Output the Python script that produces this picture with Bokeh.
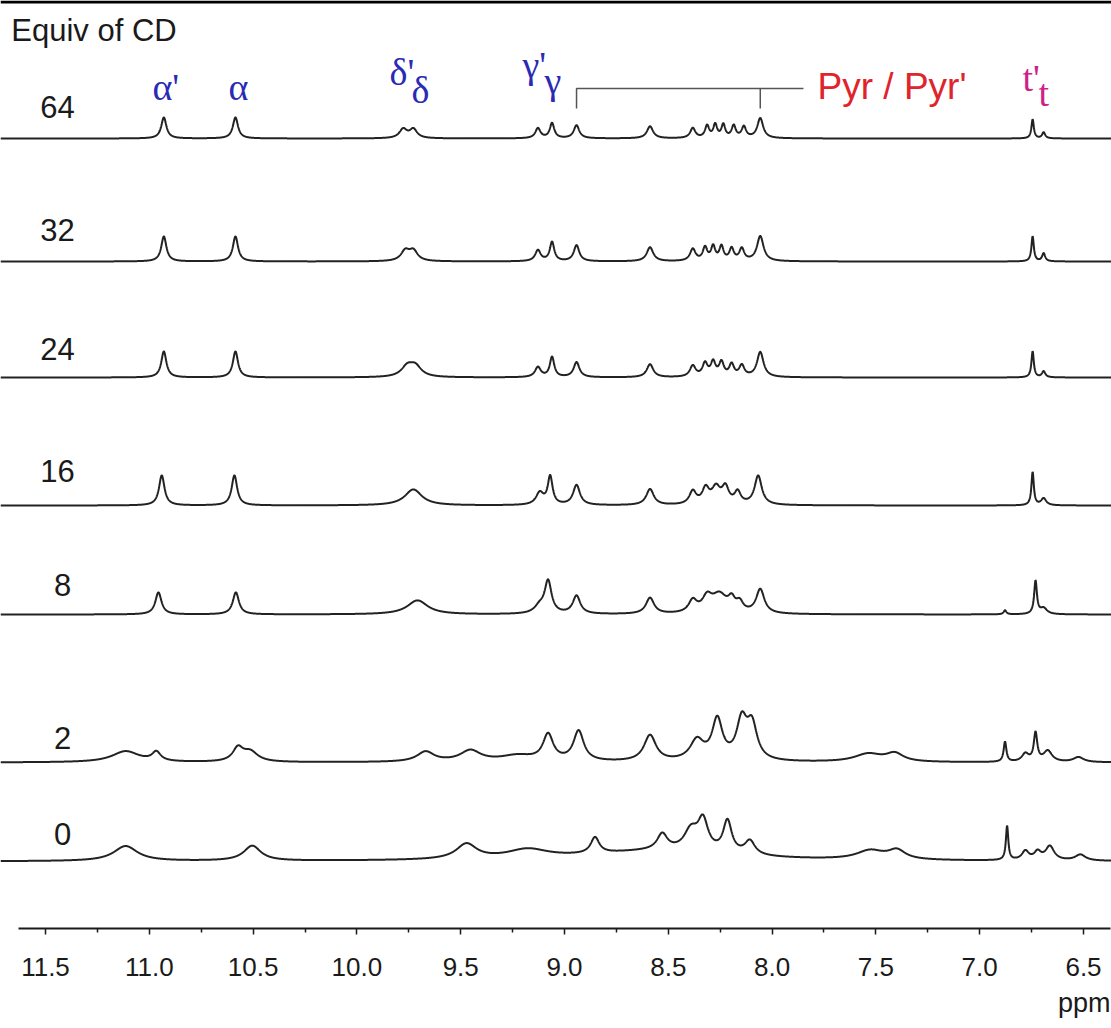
import numpy as np
from bokeh.plotting import figure
from bokeh.models import (Range1d, FixedTicker, NumeralTickFormatter, Span,
                          ColumnDataSource, Title)
from bokeh.embed import file_html
from bokeh.resources import INLINE
from bokeh.core.properties import value

# ---------------- data ----------------
equiv = ["64", "32", "24", "16", "8", "2", "0"]

# peak tables: position (ppm), height, half width (ppm)
s64_pos = [10.93, 10.585, 9.777, 9.728, 9.128, 9.060, 8.942, 8.588, 8.382, 8.313, 8.274, 8.235, 8.185, 8.136, 8.057, 6.745, 6.692]
s64_h   = [21, 21, 9, 9, 10, 15, 13, 12, 10, 12, 13, 13, 12, 11, 20, 19, 6]
s64_w   = [0.015, 0.015, 0.022, 0.022, 0.015, 0.013, 0.016, 0.018, 0.015, 0.012, 0.011, 0.011, 0.012, 0.013, 0.017, 0.007, 0.009]

s32_pos = [10.93, 10.585, 9.767, 9.728, 9.128, 9.060, 8.942, 8.588, 8.382, 8.323, 8.284, 8.244, 8.195, 8.146, 8.057, 6.745, 6.692]
s32_h   = [25, 25, 10, 10, 11, 19, 16, 14, 12, 13, 14, 14, 12, 12, 25, 25, 8]
s32_w   = [0.015, 0.015, 0.025, 0.025, 0.016, 0.013, 0.016, 0.019, 0.016, 0.013, 0.012, 0.012, 0.013, 0.014, 0.019, 0.007, 0.009]

s24_pos = [10.93, 10.585, 9.757, 9.718, 9.128, 9.060, 8.942, 8.588, 8.382, 8.323, 8.284, 8.244, 8.195, 8.146, 8.057, 6.745, 6.692]
s24_h   = [26, 26, 10, 10, 10, 20, 15, 13, 11, 13, 14, 14, 12, 11, 25, 26, 6]
s24_w   = [0.015, 0.015, 0.035, 0.035, 0.017, 0.013, 0.017, 0.019, 0.017, 0.015, 0.014, 0.014, 0.014, 0.015, 0.019, 0.007, 0.010]

s16_pos = [10.94, 10.59, 9.728, 9.119, 9.069, 8.942, 8.588, 8.382, 8.320, 8.270, 8.225, 8.166, 8.067, 6.745, 6.692]
s16_h   = [30, 30, 16, 12, 28, 20, 16, 13, 15, 16, 16, 12, 29, 33, 7]
s16_w   = [0.016, 0.016, 0.05, 0.022, 0.014, 0.02, 0.022, 0.02, 0.02, 0.025, 0.02, 0.018, 0.021, 0.007, 0.015]

s8_pos = [10.956, 10.583, 9.708, 9.12, 9.079, 8.942, 8.588, 8.382, 8.313, 8.254, 8.195, 8.156, 8.057, 6.878, 6.731, 6.692]
s8_h   = [22, 22, 14, 7, 32, 18, 16, 12, 14, 18, 11, 9, 24, 4, 33, 6]
s8_w   = [0.018, 0.018, 0.06, 0.03, 0.02, 0.022, 0.024, 0.024, 0.028, 0.045, 0.02, 0.02, 0.024, 0.008, 0.008, 0.02]

s2_pos = [11.114, 10.966, 10.573, 10.514, 9.669, 9.453, 9.227, 9.079, 8.932, 8.588, 8.362, 8.264, 8.146, 8.097, 7.537, 7.409, 6.878, 6.780, 6.731, 6.672, 6.524]
s2_h   = [11, 9, 13, 10, 10, 11, 6, 26, 30, 26, 20, 40, 38, 34, 8, 8, 20, 8, 28, 11, 5]
s2_w   = [0.08, 0.025, 0.03, 0.045, 0.05, 0.06, 0.10, 0.03, 0.03, 0.035, 0.04, 0.03, 0.03, 0.03, 0.08, 0.05, 0.008, 0.02, 0.01, 0.025, 0.03]

s0_pos = [11.114, 10.504, 9.472, 9.178, 8.55, 8.853, 8.529, 8.391, 8.333, 8.215, 8.107, 7.527, 7.399, 6.868, 6.780, 6.721, 6.662, 6.515]
s0_h   = [15, 15, 15, 9, 10, 16, 16, 20, 30, 32, 14, 9, 9, 34, 9, 8, 14, 6]
s0_w   = [0.07, 0.05, 0.06, 0.12, 0.45, 0.025, 0.03, 0.04, 0.03, 0.025, 0.03, 0.08, 0.05, 0.007, 0.02, 0.02, 0.025, 0.03]

spectra = [
    (s64_pos, s64_h, s64_w), (s32_pos, s32_h, s32_w), (s24_pos, s24_h, s24_w),
    (s16_pos, s16_h, s16_w), (s8_pos, s8_h, s8_w), (s2_pos, s2_h, s2_w), (s0_pos, s0_h, s0_w),
]

# assignment labels
assign_text = ["\u03b1'", "\u03b1", "\u03b4'", "\u03b4", "\u03b3'", "\u03b3", "t'", "t"]
pyr_text = "Pyr / Pyr'"
pyr_ends = [8.942, 8.057]   # first and last Pyr signal

tick_ppm = [11.5, 11.0, 10.5, 10.0, 9.5, 9.0, 8.5, 8.0, 7.5, 7.0, 6.5]
minor_ppm = [11.25, 10.75, 10.25, 9.75, 9.25, 8.75, 8.25, 7.75, 7.25, 6.75]

# ---------------- layout ----------------
X0, X1 = 11.7168, 6.3651
stack_offsets = [790, 667, 551, 423, 314, 166, 67]
label_y = [822, 699, 580, 458, 344, 191, 95]

p = figure(width=1111, height=1028, x_range=Range1d(X0, X1), y_range=Range1d(0, 928),
           output_backend="svg", toolbar_location=None, y_axis_location=None,
           min_border_left=0, min_border_right=0, min_border_top=0, min_border_bottom=100,
           background_fill_color="white", border_fill_color="white")
p.outline_line_color = None
p.xgrid.grid_line_color = None
p.ygrid.grid_line_color = None

grid = np.linspace(X0, X1, 5000)
for (pos, h, w), off in zip(spectra, stack_offsets):
    y = np.zeros_like(grid)
    for c, a, g in zip(pos, h, w):
        y += a / (1.0 + ((grid - c) / g) ** 2)
    p.line(grid, y + off, line_color="#222222", line_width=2.0)

# equivalents labels
p.text(x=[11.442, 11.442, 11.442, 11.442, 11.418, 11.418, 11.418], y=label_y, text=equiv,
       text_font=value("Liberation Sans"), text_font_size=value("31px"),
       text_color="#1a1a1a", text_align="center", text_baseline="middle")

p.text(x=[11.665], y=[898], text=["Equiv of CD"], text_font=value("Liberation Sans"),
       text_font_size=value("31px"), text_color="#1a1a1a", text_align="left",
       text_baseline="alphabetic")

src = ColumnDataSource(dict(
    x=[10.985, 10.619, 9.843, 9.737, 9.202, 9.096, 6.794, 6.717],
    y=[842, 842, 857, 839, 864, 848, 851, 836],
    text=assign_text,
    color=["#2a2ab4"] * 6 + ["#cc2288"] * 2,
))
p.text(x="x", y="y", text="text", text_color="color", source=src,
       text_font=value("Liberation Serif"), text_font_size=value("38px"),
       text_align="left", text_baseline="alphabetic")

p.text(x=[7.781], y=[842], text=[pyr_text], text_font=value("Liberation Sans"),
       text_font_size=value("37px"), text_color="#e0242c", text_align="left",
       text_baseline="alphabetic")

# bracket over the Pyr signals
p.multi_line(xs=[[pyr_ends[0], pyr_ends[0], 7.849], [pyr_ends[1], pyr_ends[1]]],
             ys=[[820, 840, 840], [820, 840]], line_color="#555555", line_width=1.5)

p.add_layout(Span(location=926.5, dimension="width", line_color="black", line_width=3))

ax = p.xaxis[0]
ax.ticker = FixedTicker(ticks=tick_ppm, minor_ticks=minor_ppm)
ax.formatter = NumeralTickFormatter(format="0.0")
ax.bounds = (11.630, 6.370)
ax.axis_line_color = "#1a1a1a"
ax.axis_line_width = 1.8
ax.major_tick_line_color = "#1a1a1a"
ax.major_tick_line_width = 1.5
ax.minor_tick_line_color = "#1a1a1a"
ax.minor_tick_line_width = 1.5
ax.major_tick_out = 6
ax.major_tick_in = 0
ax.minor_tick_out = 4
ax.minor_tick_in = 0
ax.major_label_text_font = "Liberation Sans"
ax.major_label_text_font_size = "26px"
ax.major_label_text_color = "#1a1a1a"
ax.major_label_standoff = 23

# unit label, right-aligned under the axis
p.add_layout(Title(text="ppm", align="right", offset=1, standoff=14,
                   text_font="Liberation Sans", text_font_size="27px",
                   text_line_height=0.7,
                   text_font_style="normal", text_color="#1a1a1a"), "below")

open("out.html", "w").write(file_html(p, INLINE))
